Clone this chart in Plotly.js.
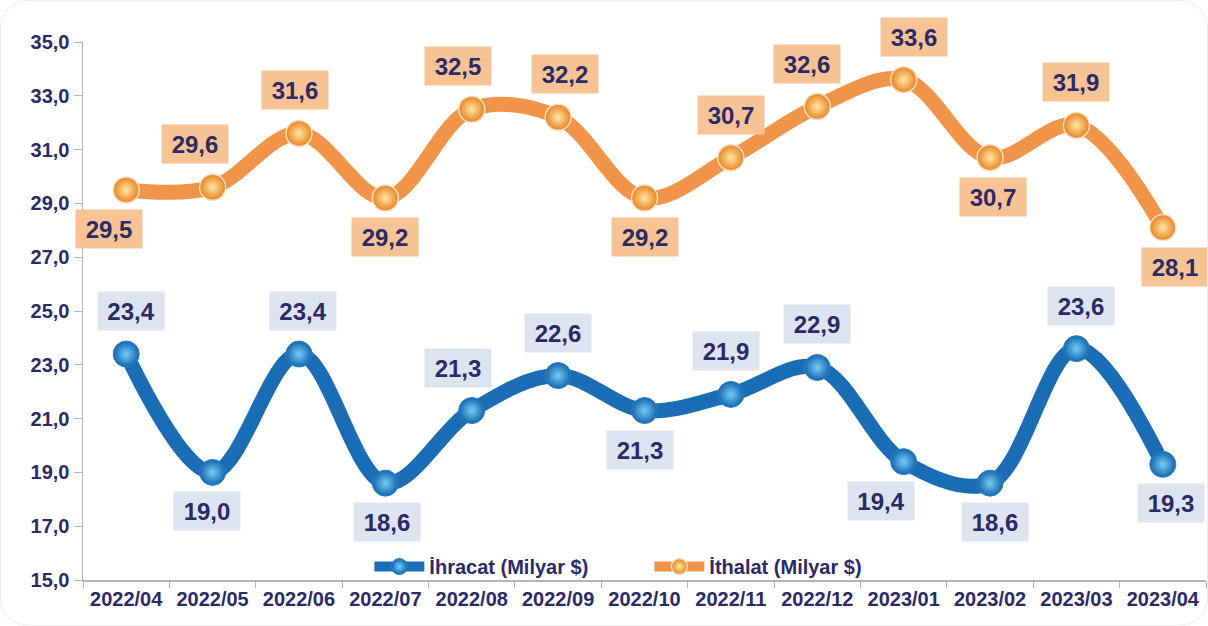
<!DOCTYPE html>
<html>
<head>
<meta charset="utf-8">
<script src="https://cdn.plot.ly/plotly-3.0.1.min.js"></script>
<style>
  html, body { margin: 0; padding: 0; background: #ffffff; }
  #chart {
    width: 1206px; height: 624px;
    border: 1px solid #ececec; border-radius: 28px;
    overflow: hidden; background: #ffffff;
  }
</style>
</head>
<body>
<div id="chart"></div>
<script>
// Months on the x axis
const months = ['2022/04', '2022/05', '2022/06', '2022/07', '2022/08', '2022/09', '2022/10',
                '2022/11', '2022/12', '2023/01', '2023/02', '2023/03', '2023/04'];

// Exports and imports, billion $
const ihracat = [23.4, 19.0, 23.4, 18.6, 21.3, 22.6, 21.3, 21.9, 22.9, 19.4, 18.6, 23.6, 19.3];
const ithalat = [29.5, 29.6, 31.6, 29.2, 32.5, 32.2, 29.2, 30.7, 32.6, 33.6, 30.7, 31.9, 28.1];

// Where each value label sits relative to its point: 1 = above, -1 = below
const ihracatSide = [1, -1, 1, -1, 1, 1, -1, 1, 1, -1, -1, 1, -1];
const ithalatSide = [-1, 1, 1, -1, 1, 1, -1, 1, 1, 1, -1, 1, -1];
// Small sideways nudges of the labels (px), as placed in the original
const ihracatNudge = [5, -6, 4, 2, -14, 0, -5, -5, 0, -23, 5, 5, 8];
const ithalatNudge = [-17, -18, -4, 0, -14, 7, 0, 0, -10, 10, 3, 0, 12];

const navy = '#2b2a66';
const fontFamily = '"Liberation Sans", Arial, sans-serif';
const fmt = v => v.toFixed(1).replace('.', ',');

function makeLabels(values, sides, nudges, boxColor) {
    return values.map((v, i) => ({
        x: months[i], y: v, xref: 'x', yref: 'y',
        text: fmt(v),
        showarrow: true, arrowwidth: 0.1, arrowcolor: 'rgba(0,0,0,0)',
        ax: nudges[i], ay: sides[i] > 0 ? -43 : 39,
        bgcolor: boxColor, borderpad: 5, width: 56, height: 28,
        font: { family: fontFamily, size: 24, color: navy, weight: 'bold' }
    }));
}

const traceExport = {
    x: months, y: ihracat,
    type: 'scatter', mode: 'lines+markers',
    name: 'İhracat (Milyar $)',
    line: { color: '#1a6db4', width: 15, shape: 'spline', smoothing: 1 },
    marker: {
        size: 26, color: '#1466b0',
        gradient: { type: 'radial', color: '#74cdf2' },
        line: { color: '#2f7fc4', width: 1 }
    },
    hoverinfo: 'skip'
};

const traceImport = {
    x: months, y: ithalat,
    type: 'scatter', mode: 'lines+markers',
    name: 'İthalat (Milyar $)',
    line: { color: '#f0944a', width: 15, shape: 'spline', smoothing: 1 },
    marker: {
        size: 26, color: '#e9821f',
        gradient: { type: 'radial', color: '#ffe7a8' },
        line: { color: '#f6dcc0', width: 1.5 }
    },
    hoverinfo: 'skip'
};

const layout = {
    width: 1206, height: 624,
    margin: { l: 82, r: 1, t: 41, b: 45 },
    paper_bgcolor: 'rgba(0,0,0,0)',
    plot_bgcolor: 'rgba(0,0,0,0)',
    separators: ',.',
    showlegend: true,
    legend: {
        orientation: 'h', x: 0.255, xanchor: 'left', y: 0.025, yanchor: 'middle',
        bgcolor: 'rgba(0,0,0,0)', itemwidth: 50, entrywidth: 215,
        font: { family: fontFamily, size: 20, color: navy, weight: 'bold' }
    },
    xaxis: {
        type: 'category', tickson: 'boundaries', range: [-0.5, 12.5],
        showline: true, linecolor: '#b5b5b5', linewidth: 1.5,
        ticks: 'outside', ticklen: 6, tickcolor: '#b5b5b5',
        showgrid: false, zeroline: false,
        tickfont: { family: fontFamily, size: 20, color: navy, weight: 'bold' }
    },
    yaxis: {
        range: [15, 35], dtick: 2, tick0: 15, tickformat: '.1f',
        showline: true, linecolor: '#b5b5b5', linewidth: 1.5,
        ticks: 'outside', ticklen: 8, tickcolor: '#b5b5b5',
        showgrid: false, zeroline: false,
        tickfont: { family: fontFamily, size: 20, color: navy, weight: 'bold' }
    },
    annotations: makeLabels(ithalat, ithalatSide, ithalatNudge, '#f7c394')
        .concat(makeLabels(ihracat, ihracatSide, ihracatNudge, '#dde4f0'))
};

Plotly.newPlot('chart', [traceExport, traceImport], layout, { displayModeBar: false, staticPlot: true });
</script>
</body>
</html>
